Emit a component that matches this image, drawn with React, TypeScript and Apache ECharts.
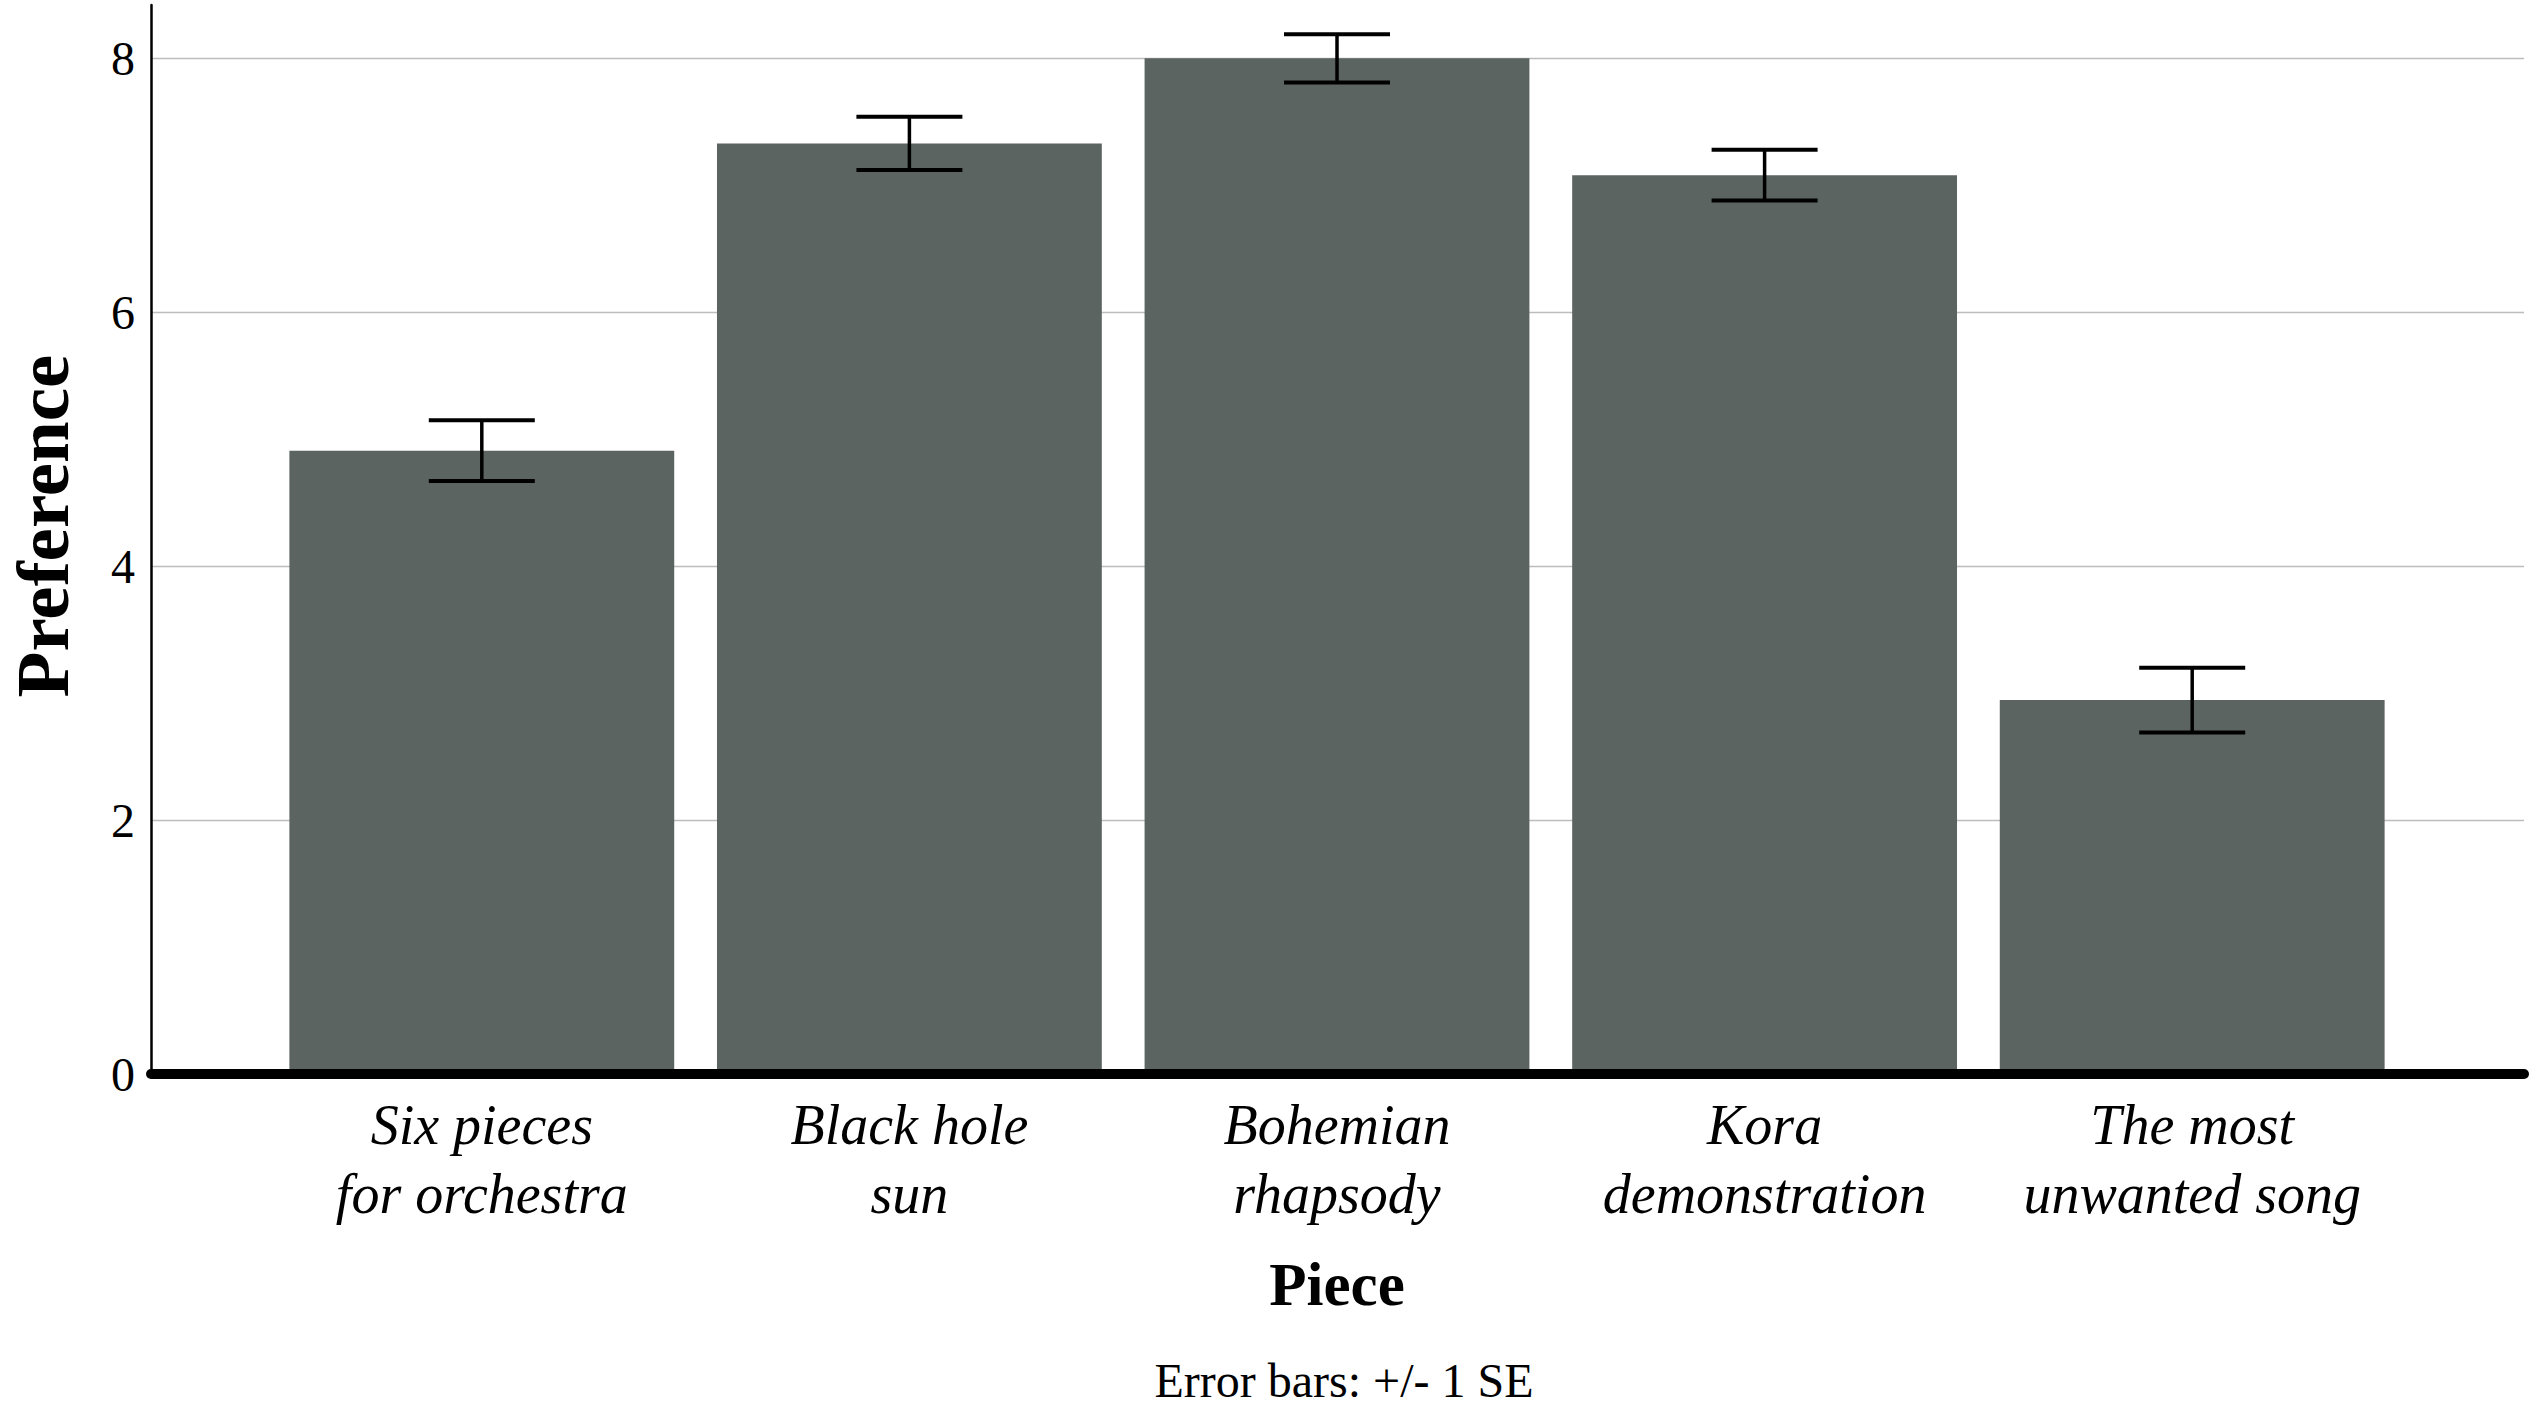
import React, { useEffect, useRef } from "react";
import * as echarts from "echarts";

const categories = [
  "Six pieces\nfor orchestra",
  "Black hole\nsun",
  "Bohemian\nrhapsody",
  "Kora\ndemonstration",
  "The most\nunwanted song",
];
const means = [4.91, 7.33, 8.0, 7.08, 2.945];
const standardErrors = [0.24, 0.21, 0.19, 0.2, 0.255];
const yTicks = { min: 0, max: 8.42, interval: 2 };
const xTitle = "Piece";
const yTitle = "Preference";
const footnote = "Error bars: +/- 1 SE";

const FONT = "Liberation Serif";
const BAR_COLOR = "#5b6460";

export default function App() {
  const ref = useRef<HTMLDivElement>(null);

  useEffect(() => {
    if (!ref.current) return;
    const chart = echarts.init(ref.current, undefined, { renderer: "svg" });

    const errorData = means.map((m, i) => [i, m - standardErrors[i], m + standardErrors[i]]);

    const option: any = {
      animation: false,
      backgroundColor: "#ffffff",
      textStyle: { fontFamily: FONT },
      grid: [
        { left: 151, right: 5, top: 5, bottom: 334, containLabel: false, outerBoundsMode: "none" },
        { left: 268, right: 123, top: 5, bottom: 334, containLabel: false, outerBoundsMode: "none" },
      ],
      xAxis: [
        {
          gridIndex: 0,
          type: "category",
          data: [""],
          z: 10,
          axisLine: { show: true, lineStyle: { color: "#000000", width: 10 } },
          axisTick: { show: false },
          axisLabel: { show: false },
          splitLine: { show: false },
        },
        {
          gridIndex: 1,
          type: "category",
          data: categories,
          axisLine: { show: false },
          axisTick: { show: false },
          axisLabel: {
            show: true,
            interval: 0,
            margin: 16,
            color: "#000000",
            fontFamily: FONT,
            fontStyle: "italic",
            fontSize: 56,
            lineHeight: 69,
          },
          name: xTitle,
          nameLocation: "middle",
          nameGap: 180,
          nameTextStyle: {
            color: "#000000",
            fontFamily: FONT,
            fontWeight: "bold",
            fontSize: 61,
            lineHeight: 61,
          },
        },
      ],
      yAxis: [
        {
          gridIndex: 0,
          type: "value",
          min: yTicks.min,
          max: yTicks.max,
          interval: yTicks.interval,
          axisLine: { show: true, lineStyle: { color: "#000000", width: 2.5 } },
          axisTick: { show: false },
          axisLabel: {
            show: true,
            margin: 16,
            color: "#000000",
            fontFamily: FONT,
            fontSize: 48,
            showMaxLabel: false,
          },
          splitLine: {
            show: true,
            showMaxLine: false,
            lineStyle: { color: "#bdbdbd", width: 1.3 },
          },
        },
        {
          gridIndex: 1,
          type: "value",
          min: yTicks.min,
          max: yTicks.max,
          interval: yTicks.interval,
          show: false,
          splitLine: { show: false },
        },
      ],
      series: [
        {
          type: "bar",
          xAxisIndex: 1,
          yAxisIndex: 1,
          data: means,
          barWidth: "90%",
          itemStyle: { color: BAR_COLOR },
          z: 2,
        },
        {
          type: "custom",
          xAxisIndex: 1,
          yAxisIndex: 1,
          data: errorData,
          z: 5,
          renderItem: (params: any, api: any) => {
            const x = api.value(0);
            const lo = api.coord([x, api.value(1)]);
            const hi = api.coord([x, api.value(2)]);
            const half = 53;
            return {
              type: "group",
              children: [
                {
                  type: "line",
                  shape: { x1: lo[0], y1: lo[1], x2: hi[0], y2: hi[1] },
                  style: { stroke: "#000000", lineWidth: 3.5 },
                },
                {
                  type: "line",
                  shape: { x1: hi[0] - half, y1: hi[1], x2: hi[0] + half, y2: hi[1] },
                  style: { stroke: "#000000", lineWidth: 4 },
                },
                {
                  type: "line",
                  shape: { x1: lo[0] - half, y1: lo[1], x2: lo[0] + half, y2: lo[1] },
                  style: { stroke: "#000000", lineWidth: 4 },
                },
              ],
            };
          },
        },
      ],
      graphic: [
        {
          type: "text",
          x: 42,
          y: 526,
          rotation: Math.PI / 2,
          style: {
            text: yTitle,
            fill: "#000000",
            fontFamily: FONT,
            fontWeight: "bold",
            fontSize: 75,
            lineHeight: 75,
            textAlign: "center",
            textVerticalAlign: "middle",
          },
        },
        {
          type: "text",
          x: 1344,
          y: 1380,
          style: {
            text: footnote,
            fill: "#000000",
            fontFamily: FONT,
            fontSize: 48,
            lineHeight: 48,
            textAlign: "center",
            textVerticalAlign: "middle",
          },
        },
      ],
    };

    chart.setOption(option);
    return () => chart.dispose();
  }, []);

  return (
    <div
      ref={ref}
      style={{ position: "fixed", left: 0, top: 0, width: 2529, height: 1408, background: "#fff" }}
    />
  );
}
